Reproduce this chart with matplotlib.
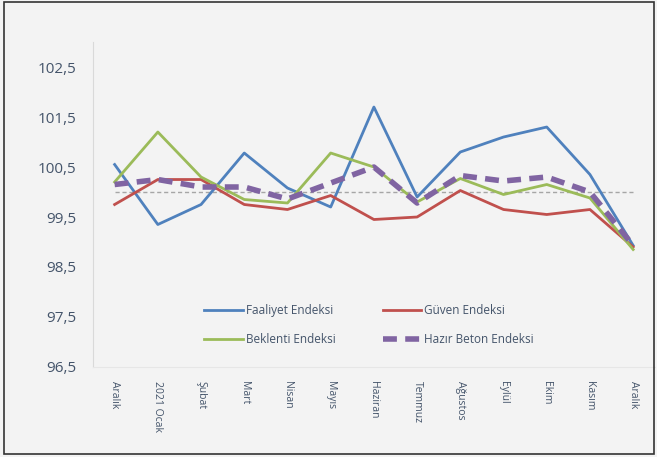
import matplotlib.pyplot as plt
from matplotlib.patches import Rectangle

# months on the x axis
months = ['Aralık', '2021 Ocak', 'Şubat', 'Mart', 'Nisan', 'Mayıs', 'Haziran',
          'Temmuz', 'Ağustos', 'Eylül', 'Ekim', 'Kasım', 'Aralık']

faaliyet = [100.55, 99.35, 99.75, 100.78, 100.08, 99.7, 101.7, 99.9, 100.8, 101.1, 101.3, 100.35, 98.93]
guven = [99.75, 100.25, 100.25, 99.75, 99.65, 99.93, 99.45, 99.5, 100.03, 99.65, 99.55, 99.65, 98.9]
beklenti = [100.2, 101.2, 100.3, 99.85, 99.78, 100.78, 100.5, 99.8, 100.27, 99.95, 100.15, 99.88, 98.85]
hazir_beton = [100.15, 100.25, 100.1, 100.1, 99.86, 100.18, 100.5, 99.78, 100.33, 100.22, 100.3, 100.0, 98.93]

yticks = [96.5, 97.5, 98.5, 99.5, 100.5, 101.5, 102.5]
ref_level = 100.0

bg = '#f3f3f3'
txt = '#44546a'

fig = plt.figure(figsize=(6.57, 4.57), dpi=100, facecolor=bg)
ax = fig.add_axes([0.1416, 0.197, 0.855, 0.711], facecolor=bg)

x = list(range(len(months)))
ax.plot([x[0], x[-1]], [ref_level, ref_level], color='#a6a6a6', lw=1, ls=(0, (3, 2)), zorder=1)

l1, = ax.plot(x, faaliyet, color='#4f81bd', lw=2, label='Faaliyet Endeksi', zorder=3)
l2, = ax.plot(x, guven, color='#c0504d', lw=2, label='Güven Endeksi', zorder=3)
l3, = ax.plot(x, beklenti, color='#9bbb59', lw=2, label='Beklenti Endeksi', zorder=3)
l4, = ax.plot(x, hazir_beton, color='#8064a2', lw=4, ls=(0, (2.5, 1.5)),
              label='Hazır Beton Endeksi', zorder=4)

ax.set_xlim(-0.5, len(months) - 0.5)
ax.set_ylim(96.5, 103)
ax.set_yticks(yticks)
ax.set_yticklabels([f'{v:.1f}'.replace('.', ',') for v in yticks],
                   fontsize=11, color=txt, fontfamily='Open Sans')
ax.set_xticks(x)
ax.set_xticklabels(months, rotation=270, fontsize=7.5, color=txt,
                   fontfamily='Open Sans', va='top', ha='center')
ax.tick_params(axis='y', length=0, pad=12)
ax.tick_params(axis='x', length=0, pad=10)

for s in ['top', 'right']:
    ax.spines[s].set_visible(False)
ax.spines['left'].set_color('#d9d9d9')
ax.spines['bottom'].set_color('#e6e6e6')

# legend fills column by column, so order gives rows Faaliyet/Güven, Beklenti/Hazır
leg = ax.legend(handles=[l1, l3, l2, l4], ncol=2, frameon=False,
                loc='center', bbox_to_anchor=(0.491, 0.128),
                prop={'family': 'Open Sans', 'size': 8.5},
                handlelength=3.3, handletextpad=0.2, columnspacing=4.0,
                labelspacing=1.35)
for t in leg.get_texts():
    t.set_color(txt)

# outer frame
fig.patches.append(Rectangle((0.006, 0.006), 0.99, 0.99, transform=fig.transFigure,
                             fill=False, edgecolor='#333333', lw=1.2))

fig.savefig('out.png', dpi=100, facecolor=bg)
